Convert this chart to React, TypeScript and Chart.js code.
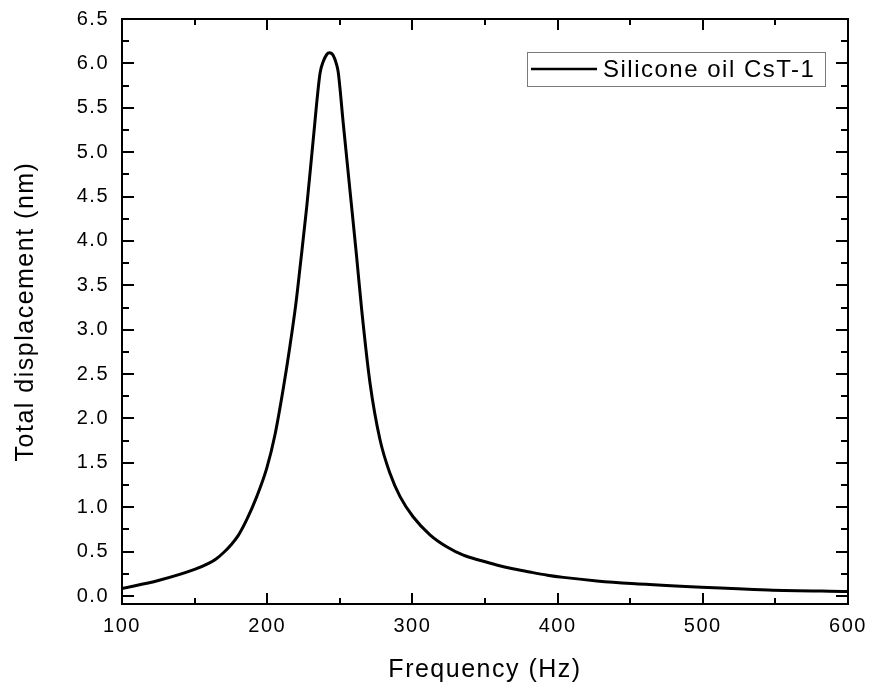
import React, { useEffect, useRef } from "react";
import { Chart, registerables } from "chart.js";

Chart.register(...registerables);

// Frequency response of the sensor in silicone oil
const freqHz = [
  100, 125, 150, 160, 165, 170, 175, 180, 185.9, 192.8, 199.7, 205.4, 211.1, 215.7,
  219.8, 222.6, 227.2, 231.7, 236.4, 238.6, 241.0, 242.8, 245.5, 247.9, 249.0,
  252.4, 257.0, 261.6, 265.1, 270.8, 277.7, 284.6, 291.5, 300.6, 312.1, 323.6,
  335.1, 347, 358, 370, 381, 393, 404, 427, 451, 499, 545, 600,
];
const displacementNm = [
  0.085, 0.175, 0.3, 0.37, 0.42, 0.49, 0.575, 0.68, 0.86, 1.12, 1.44, 1.82, 2.34, 2.82,
  3.3, 3.7, 4.38, 5.14, 5.89, 6.02, 6.1, 6.12, 6.09, 5.98, 5.89,
  5.32, 4.57, 3.82, 3.22, 2.4, 1.76, 1.38, 1.12, 0.89, 0.69, 0.555,
  0.46, 0.4, 0.35, 0.305, 0.27, 0.235, 0.21, 0.17, 0.14, 0.098, 0.068, 0.05,
];

const seriesLabel = "Silicone oil CsT-1";
const xTitle = "Frequency (Hz)";
const yTitle = "Total displacement (nm)";

const xMajorTicks = [100, 200, 300, 400, 500, 600];
const xMinorTicks = [150, 250, 350, 450, 550];
const yMajorTicks = [0, 0.5, 1, 1.5, 2, 2.5, 3, 3.5, 4, 4.5, 5, 5.5, 6, 6.5];
const yMinorTicks = [0.25, 0.75, 1.25, 1.75, 2.25, 2.75, 3.25, 3.75, 4.25, 4.75, 5.25, 5.75, 6.25];

const FONT = '"Liberation Sans", Arial, sans-serif';

const spacingPlugin = {
  id: "letterSpacing",
  beforeUpdate(chart: any) {
    chart.ctx.letterSpacing = "1.5px";
  },
  beforeDraw(chart: any) {
    chart.ctx.letterSpacing = "1.5px";
  },
};

// Closed frame with inward-pointing ticks on all four sides, plus the legend box
const framePlugin = {
  id: "frame",
  afterDraw(chart: any) {
    const { ctx, chartArea } = chart;
    const { left, right, top, bottom } = chartArea;
    const xs = chart.scales.x;
    const ys = chart.scales.y;
    ctx.save();
    ctx.strokeStyle = "#000";
    ctx.lineWidth = 2;
    ctx.lineCap = "butt";
    ctx.beginPath();
    const xTick = (v: number, len: number) => {
      const px = Math.round(xs.getPixelForValue(v));
      ctx.moveTo(px, bottom);
      ctx.lineTo(px, bottom - len);
      ctx.moveTo(px, top);
      ctx.lineTo(px, top + len);
    };
    const yTick = (v: number, len: number) => {
      const py = Math.round(ys.getPixelForValue(v));
      ctx.moveTo(left, py);
      ctx.lineTo(left + len, py);
      ctx.moveTo(right, py);
      ctx.lineTo(right - len, py);
    };
    xMajorTicks.forEach((v) => xTick(v, 11));
    xMinorTicks.forEach((v) => xTick(v, 6));
    yMajorTicks.forEach((v) => yTick(v, 12));
    yMinorTicks.forEach((v) => yTick(v, 7));
    ctx.stroke();
    ctx.strokeRect(left, top, right - left, bottom - top);

    // legend
    const bx = right - 321;
    const by = top + 33;
    const bw = 298;
    const bh = 34;
    ctx.lineWidth = 1;
    ctx.strokeStyle = "#7a7a7a";
    ctx.strokeRect(bx + 0.5, by + 0.5, bw, bh);
    ctx.strokeStyle = "#000";
    ctx.lineWidth = 2.5;
    ctx.beginPath();
    ctx.moveTo(bx + 4, by + 17);
    ctx.lineTo(bx + 70, by + 17);
    ctx.stroke();
    ctx.fillStyle = "#000";
    ctx.font = `24px ${FONT}`;
    ctx.textBaseline = "middle";
    ctx.textAlign = "left";
    ctx.fillText(chart.data.datasets[0].label, bx + 76, by + 18);
    ctx.restore();
  },
};

export default function App() {
  const canvasRef = useRef<HTMLCanvasElement | null>(null);

  useEffect(() => {
    const canvas = canvasRef.current;
    if (!canvas) return;
    const points = freqHz.map((f, i) => ({ x: f, y: displacementNm[i] }));
    const chart = new Chart(canvas, {
      type: "line",
      data: {
        datasets: [
          {
            label: seriesLabel,
            data: points,
            borderColor: "#000",
            borderWidth: 3,
            pointRadius: 0,
            fill: false,
            cubicInterpolationMode: "monotone",
          },
        ],
      },
      options: {
        animation: false,
        responsive: false,
        maintainAspectRatio: false,
        devicePixelRatio: 1,
        layout: { padding: { top: 19, right: 22, left: 0, bottom: 0 } },
        plugins: {
          legend: { display: false },
          tooltip: { enabled: false },
        },
        scales: {
          x: {
            type: "linear",
            min: 100,
            max: 600,
            grid: { display: false, drawTicks: false },
            border: { display: false },
            afterBuildTicks: (scale: any) => {
              scale.ticks = xMajorTicks.map((v) => ({ value: v }));
            },
            afterFit: (scale: any) => {
              scale.height = 85;
              scale.paddingLeft = 0;
              scale.paddingRight = 0;
            },
            ticks: {
              color: "#000",
              padding: 10,
              maxRotation: 0,
              autoSkip: false,
              font: { family: FONT, size: 20 },
              callback: (v: any) => String(v),
            },
            title: {
              display: true,
              text: xTitle,
              color: "#000",
              font: { family: FONT, size: 25 },
              padding: { top: 0, bottom: 4 },
            },
          },
          y: {
            type: "linear",
            min: -0.09,
            max: 6.5,
            grid: { display: false, drawTicks: false },
            border: { display: false },
            afterBuildTicks: (scale: any) => {
              scale.ticks = yMajorTicks.map((v) => ({ value: v }));
            },
            afterFit: (scale: any) => {
              scale.width = 122;
              scale.paddingTop = 0;
              scale.paddingBottom = 0;
            },
            ticks: {
              color: "#000",
              padding: 13,
              autoSkip: false,
              font: { family: FONT, size: 20 },
              callback: (v: any) => Number(v).toFixed(1),
            },
            title: {
              display: true,
              text: yTitle,
              color: "#000",
              font: { family: FONT, size: 25 },
              padding: { top: 11, bottom: 0 },
            },
          },
        },
      },
      plugins: [spacingPlugin, framePlugin],
    });
    return () => chart.destroy();
  }, []);

  return (
    <div style={{ position: "fixed", left: 0, top: 0, width: 870, height: 689, background: "#fff" }}>
      <canvas ref={canvasRef} width={870} height={689} style={{ display: "block" }} />
    </div>
  );
}
